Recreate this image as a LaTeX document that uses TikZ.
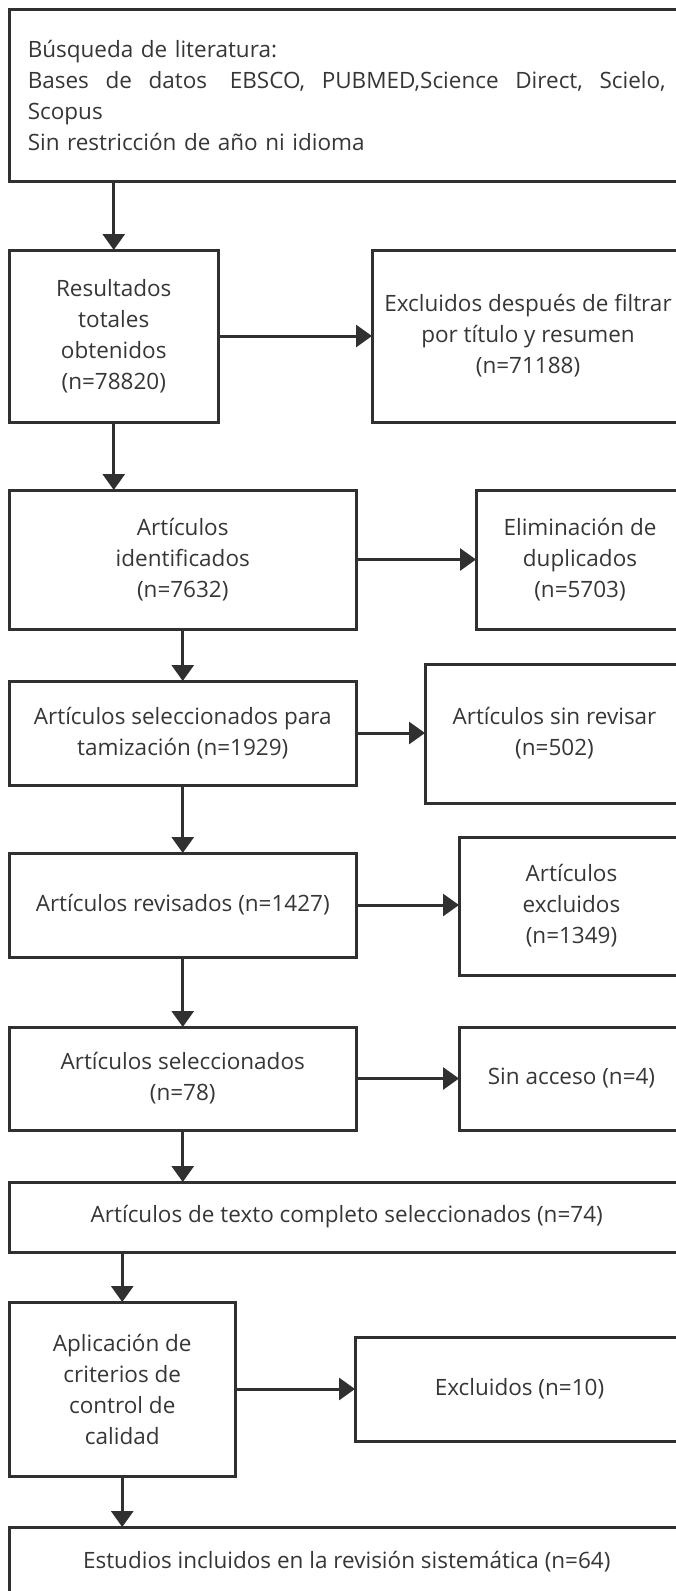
\documentclass[tikz,border=0pt]{standalone}
\usepackage{fontspec}
\setmainfont{Open Sans}
\usetikzlibrary{arrows.meta}
\definecolor{linegray}{HTML}{303030}
\definecolor{textgray}{HTML}{363636}

\begin{document}
\begin{tikzpicture}[x=1pt,y=-1pt,
    box/.style={draw=linegray, line width=3pt, inner sep=0pt, outer sep=0pt,
      align=center, text=textgray, font=\fontsize{22.5}{31}\selectfont},
    flow/.style={draw=linegray, line width=3pt, -{Triangle[length=16pt,width=22pt]}}]
  \useasboundingbox (0,0) rectangle (676,1591);
  \clip (0,0) rectangle (676,1591);

  % Main column
  \node[box, minimum width=674.5, minimum height=172, text width=638, align=left] (busqueda) at (346.75,95)
    {Búsqueda de literatura:\\
     Bases\hfill de\hfill datos\hfill\hspace{6pt}EBSCO,\hfill PUBMED,Science\hfill Direct,\hfill Scielo,\\
     Scopus\\
     Sin restricción de año ni idioma};
  \node[box, minimum width=208.5, minimum height=172] (resultados) at (113.75,336)
    {Resultados\\ totales\\ obtenidos\\ (n=78820)};
  \node[box, minimum width=346.5, minimum height=139] (identificados) at (182.75,559.5)
    {Artículos\\ identificados\\ (n=7632)};
  \node[box, minimum width=346.5, minimum height=104] (tamizacion) at (182.75,733)
    {Artículos seleccionados para\\ tamización (n=1929)};
  \node[box, minimum width=346.5, minimum height=104] (revisados) at (182.75,905)
    {Artículos revisados (n=1427)};
  \node[box, minimum width=346.5, minimum height=103] (seleccionados) at (182.75,1078.5)
    {Artículos seleccionados\\ (n=78)};
  \node[box, minimum width=674.5, minimum height=70] (textocompleto) at (346.75,1217)
    {Artículos de texto completo seleccionados (n=74)};
  \node[box, minimum width=225.5, minimum height=174] (aplicacion) at (122.25,1389)
    {Aplicación de\\ criterios de\\ control de\\ calidad};
  \node[box, minimum width=674.5, minimum height=70] (estudios) at (346.75,1562)
    {Estudios incluidos en la revisión sistemática (n=64)};

  % Exclusions
  \node[box, minimum width=312, minimum height=172] (filtrados) at (528,336)
    {Excluidos después de filtrar\\ por título y resumen\\ (n=71188)};
  \node[box, minimum width=208, minimum height=139] (duplicados) at (580,559.5)
    {Eliminación de\\ duplicados\\ (n=5703)};
  \node[box, minimum width=259, minimum height=139] (sinrevisar) at (554.5,733.5)
    {Artículos sin revisar\\ (n=502)};
  \node[box, minimum width=225, minimum height=138] (excluidos) at (571.5,906)
    {Artículos\\ excluidos\\ (n=1349)};
  \node[box, minimum width=225, minimum height=103] (sinacceso) at (571.5,1078.5)
    {Sin acceso (n=4)};
  \node[box, minimum width=329, minimum height=104] (calidad) at (519.5,1389)
    {Excluidos (n=10)};

  % Arrows
  \draw[flow] (resultados.north |- busqueda.south) -- (resultados.north);
  \draw[flow] (resultados.south) -- (resultados.south |- identificados.north);
  \draw[flow] (identificados.south) -- (tamizacion.north);
  \draw[flow] (tamizacion.south) -- (revisados.north);
  \draw[flow] (revisados.south) -- (seleccionados.north);
  \draw[flow] (seleccionados.south) -- (seleccionados.south |- textocompleto.north);
  \draw[flow] (aplicacion.north |- textocompleto.south) -- (aplicacion.north);
  \draw[flow] (aplicacion.south) -- (aplicacion.south |- estudios.north);
  \foreach \a/\b in {resultados/filtrados, identificados/duplicados, tamizacion/sinrevisar,
      revisados/excluidos, seleccionados/sinacceso, aplicacion/calidad}
    \draw[flow] (\a.east) -- (\a.east -| \b.west);
\end{tikzpicture}
\end{document}
